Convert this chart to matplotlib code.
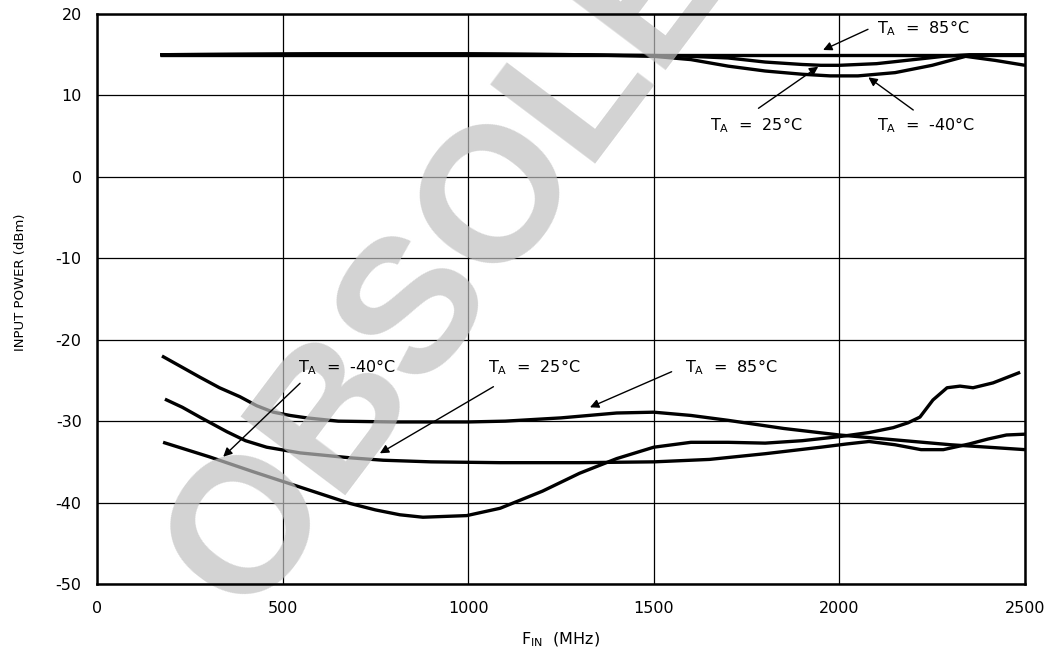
import matplotlib.pyplot as plt

plt.rcParams['font.family'] = ['DejaVu Sans']
plt.rcParams['mathtext.default'] = 'regular'
plt.rcParams['axes.unicode_minus'] = False

# upper group (high input power limit), MHz / dBm
hi_freq_85 = [170, 500, 1000, 1500, 2000, 2500]
hi_pwr_85 = [15.0, 15.0, 15.0, 15.0, 15.0, 15.0]

hi_freq_25 = [170, 600, 1000, 1300, 1500, 1600, 1700, 1800, 1900, 1950, 2000, 2100,
              2200, 2280, 2350, 2420, 2500]
hi_pwr_25 = [15.0, 15.1, 15.1, 15.0, 14.9, 14.8, 14.6, 14.1, 13.8, 13.7, 13.7, 13.9,
             14.4, 14.8, 15.0, 15.0, 15.0]

hi_freq_m40 = [170, 600, 1000, 1300, 1500, 1600, 1700, 1800, 1900, 1975, 2050, 2150,
               2250, 2340, 2420, 2500]
hi_pwr_m40 = [15.0, 15.1, 15.1, 15.0, 14.8, 14.4, 13.6, 13.0, 12.6, 12.4, 12.4, 12.8,
              13.7, 14.8, 14.3, 13.7]

# lower group (low input power limit)
lo_freq_85 = [175, 230, 277, 330, 385, 430, 475, 520, 565, 650, 800, 1000, 1100, 1250,
              1400, 1500, 1600, 1700, 1850, 2000, 2150, 2300, 2500]
lo_pwr_85 = [-22.0, -23.4, -24.6, -25.9, -27.0, -28.1, -28.9, -29.3, -29.6, -30.0,
             -30.1, -30.1, -30.0, -29.6, -29.0, -28.9, -29.3, -29.9, -30.9, -31.7,
             -32.3, -32.9, -33.5]

lo_freq_25 = [183, 230, 277, 350, 400, 457, 547, 681, 771, 900, 1086, 1300, 1500,
              1650, 1800, 1950, 2020, 2080, 2150, 2220, 2280, 2350, 2400, 2450, 2500]
lo_pwr_25 = [-27.3, -28.3, -29.5, -31.3, -32.4, -33.2, -33.9, -34.5, -34.8, -35.0,
             -35.1, -35.1, -35.0, -34.7, -34.0, -33.2, -32.8, -32.5, -32.9, -33.5,
             -33.5, -32.8, -32.2, -31.7, -31.6]

lo_freq_m40 = [178, 304, 420, 547, 681, 750, 816, 878, 996, 1086, 1200, 1300, 1400,
               1500, 1600, 1700, 1800, 1900, 2000, 2080, 2145, 2185, 2217, 2252, 2290,
               2325, 2360, 2414, 2487]
lo_pwr_m40 = [-32.6, -34.4, -36.2, -38.1, -40.1, -40.9, -41.5, -41.8, -41.6, -40.7,
              -38.6, -36.4, -34.6, -33.2, -32.6, -32.6, -32.7, -32.4, -31.9, -31.4,
              -30.8, -30.2, -29.5, -27.4, -25.9, -25.7, -25.9, -25.3, -24.0]

x_ticks = [0, 500, 1000, 1500, 2000, 2500]
y_ticks = [-50, -40, -30, -20, -10, 0, 10, 20]

# label text, text position (left, baseline), arrow tail, arrow tip
notes = [
    ('T$_{A}$  =  85°C', (2101, 17.63), (2077, 18.12), (1956, 15.58)),
    ('T$_{A}$  =  25°C', (1651, 5.67), (1782, 8.42), (1943, 13.53)),
    ('T$_{A}$  =  -40°C', (2101, 5.67), (2199, 8.21), (2078, 12.22)),
    ('T$_{A}$  =  -40°C', (542, -24.05), (547, -25.35), (340, -34.37)),
    ('T$_{A}$  =  25°C', (1054, -24.05), (1068, -25.77), (762, -33.95)),
    ('T$_{A}$  =  85°C', (1584, -24.0), (1548, -23.93), (1328, -28.3)),
]

fig = plt.figure(figsize=(10.55, 6.59), dpi=100)
ax = fig.add_axes([97 / 1055, 1 - 584 / 659, 928 / 1055, 570 / 659])
ax.set_axisbelow('line')

curves = [(hi_freq_85, hi_pwr_85), (hi_freq_25, hi_pwr_25), (hi_freq_m40, hi_pwr_m40),
          (lo_freq_85, lo_pwr_85), (lo_freq_25, lo_pwr_25), (lo_freq_m40, lo_pwr_m40)]
for fx, py in curves:
    ax.plot(fx, py, color='black', lw=2.4, solid_joinstyle='round', solid_capstyle='butt')

for txt, pos, tail, tip in notes:
    ax.text(pos[0], pos[1], txt, fontsize=11.5, ha='left', va='baseline')
    ax.annotate('', xy=tip, xytext=tail,
                arrowprops=dict(arrowstyle='-|>', color='black', lw=1.0,
                                mutation_scale=13, shrinkA=0, shrinkB=0))

ax.set_xlim(0, 2500)
ax.set_ylim(-50, 20)
ax.set_xticks(x_ticks)
ax.set_xticklabels([str(v) for v in x_ticks])
ax.set_yticks(y_ticks)
ax.set_yticklabels([str(v) for v in y_ticks])
ax.tick_params(length=0, labelsize=11.5)
ax.tick_params(axis='x', pad=12)
ax.tick_params(axis='y', pad=11)
ax.grid(True, color='black', lw=0.9)
for sp in ax.spines.values():
    sp.set_linewidth(1.8)

ax.set_xlabel('F$_{IN}$  (MHz)', fontsize=11.5, labelpad=11)
ax.set_ylabel('INPUT POWER (dBm)', fontsize=9.5)
ax.yaxis.set_label_coords(-0.0754, 0.53)

# watermark laid over the curves and grid
ax.text(0.4955, 0.7472, 'OBSOLETE', transform=fig.transFigure, clip_on=False,
        fontsize=138, fontweight='bold', family='Liberation Sans',
        color='#c0c0c0', alpha=0.7, zorder=2.2,
        rotation=53, rotation_mode='anchor', ha='center', va='center')

fig.savefig('out.png', dpi=100)
